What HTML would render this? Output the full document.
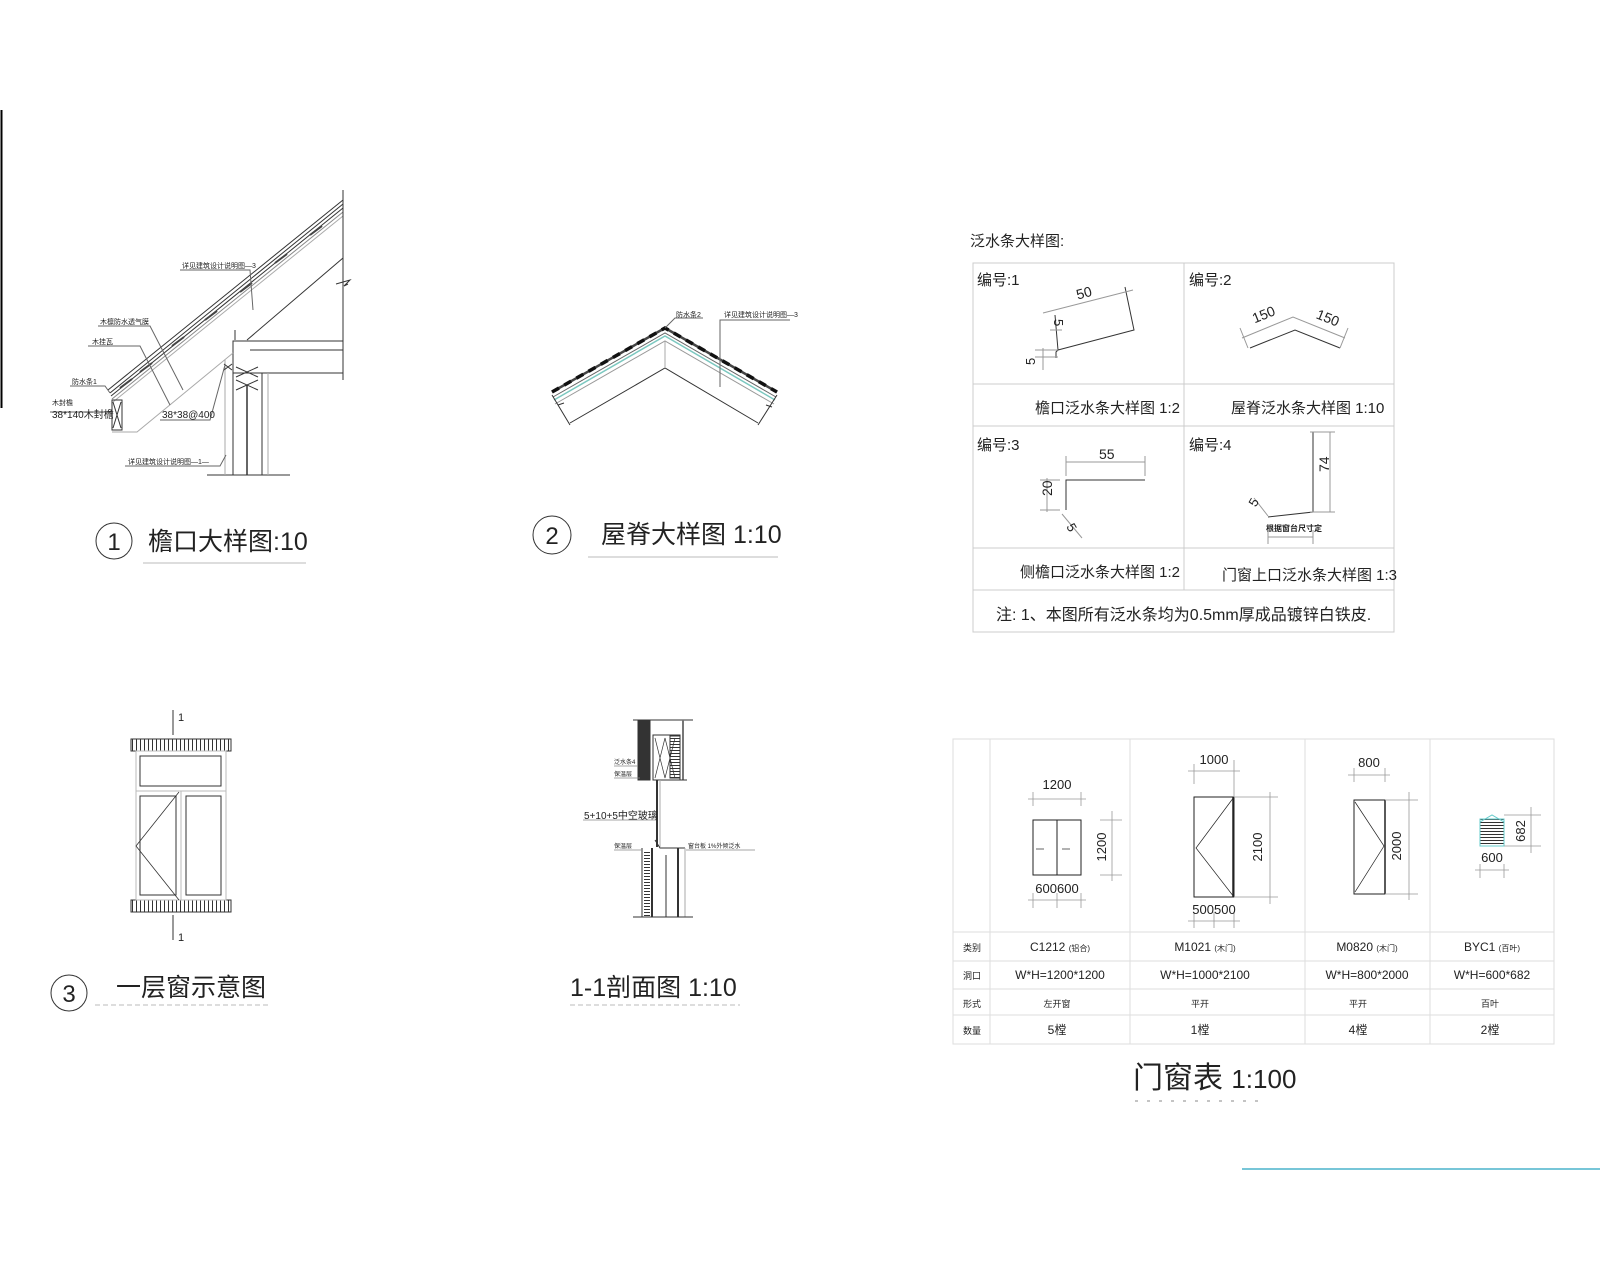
<!DOCTYPE html>
<html><head><meta charset="utf-8"><style>
html,body{margin:0;padding:0;background:#fff;}
svg{display:block;}
text{font-family:"Liberation Sans","Noto Sans CJK SC",sans-serif;fill:#222;}
</style></head><body>
<svg width="1600" height="1280" viewBox="0 0 1600 1280" xmlns="http://www.w3.org/2000/svg">
<rect width="1600" height="1280" fill="#fff"/>
<line x1="1.5" y1="110" x2="1.5" y2="408" stroke="#000" stroke-width="2"/>
<line x1="1242" y1="1169" x2="1600" y2="1169" stroke="#4ab4cc" stroke-width="1.5"/>

<!-- Detail 1: eave -->
<g stroke="#333" fill="none" stroke-width="1">
 <line x1="108" y1="390" x2="343" y2="200"/>
 <line x1="110" y1="393" x2="343" y2="204"/>
 <line x1="111" y1="396" x2="343" y2="208"/>
 <line x1="112" y1="399" x2="343" y2="212" stroke="#888"/>
 <line x1="113" y1="402" x2="343" y2="216" stroke="#aaa"/>
 <path d="M120 388 l12 -9 M140 372 l12 -9 M172 346 l12 -9 M205 320 l12 -9 M240 292 l12 -9 M275 263 l12 -9 M310 235 l12 -9" stroke="#444" stroke-width="2"/>
 <line x1="343" y1="190" x2="343" y2="380"/>
 <path d="M336 284 l14 -4 l-6 6 l4 -2"/>
 <line x1="247" y1="340" x2="343" y2="258"/>
 <rect x="233" y="341" width="110" height="32"/>
 <line x1="250" y1="350" x2="343" y2="350"/>
 <line x1="262" y1="373" x2="343" y2="373"/>
 <line x1="233" y1="373" x2="233" y2="475"/>
 <line x1="262" y1="373" x2="262" y2="475"/>
 <line x1="247" y1="385" x2="247" y2="475" stroke-width="1.5"/>
 <path d="M236 367 l22 10 M236 377 l22 -10 M236 380 l22 10 M236 390 l22 -10"/>
 <line x1="207" y1="475" x2="290" y2="475"/>
 <rect x="112" y="400" width="10" height="30"/>
 <path d="M113 402 l8 26 M121 402 l-8 26"/>
 <path d="M112 432 L137 432 L233 353" stroke="#aaa"/>
 <line x1="268" y1="373" x2="268" y2="475" stroke="#aaa"/>
 <line x1="225" y1="360" x2="225" y2="475" stroke="#aaa"/>
 <line x1="235" y1="340" x2="235" y2="330"/>
 <path d="M224 364 l8 6 M224 370 l8 -6"/>
 <path d="M180 270 L250 270 L253 310" stroke="#666"/>
 <path d="M98 326 L150 326 L183 390" stroke="#666"/>
 <path d="M88 346 L140 346 L170 405" stroke="#666"/>
 <path d="M70 386 L105 386 L110 393" stroke="#666"/>
 <path d="M50 412 L112 412" stroke="#666"/>
 <path d="M160 420 L210 420 L225 365" stroke="#666"/>
 <path d="M125 466 L220 466 L226 455" stroke="#666"/>
</g>
<g font-size="7" fill="#555">
 <text x="182" y="268">详见建筑设计说明图—3</text>
 <text x="100" y="324">木檩防水透气膜</text>
 <text x="92" y="344">木挂瓦</text>
 <text x="72" y="384">防水条1</text>
 <text x="52" y="405">木封檐</text>
 <text x="52" y="418" font-size="10" fill="#777">38*140木封檐</text>
 <text x="162" y="418" font-size="10" fill="#777">38*38@400</text>
 <text x="128" y="464">详见建筑设计说明图—1—</text>
</g>
<circle cx="114" cy="541" r="18" fill="none" stroke="#333"/>
<text x="114" y="550" font-size="24" text-anchor="middle">1</text>
<text x="148" y="550" font-size="25">檐口大样图:10</text>
<line x1="143" y1="563" x2="306" y2="563" stroke="#bbb"/>

<!-- Detail 2: ridge -->
<g fill="none" stroke="#333">
 <path d="M552 392 L665 328 L777 392" stroke="#444" stroke-width="2.5"/>
 <path d="M552 392 L665 328 L777 392" stroke="#111" stroke-width="3.5" stroke-dasharray="8,6"/>
 <path d="M553 397 L665 333 L776 397" stroke="#666" stroke-width="1"/>
 <path d="M554 400 L665 336 L775 400" stroke="#7cc8c0" stroke-width="1.5"/>
 <path d="M555 404 L665 341 L774 404" stroke="#999" stroke-width="1"/>
 <path d="M570 423 L665 368 L758 423" stroke-width="1"/>
 <line x1="665" y1="341" x2="665" y2="368" stroke="#aaa"/>
 <path d="M552 395 L570 425 M777 395 L758 425" stroke-width="1"/>
 <path d="M558 405 l6 -2 M766 405 l6 2" stroke-width="1"/>
 <path d="M665 328 L675 318 L703 318" stroke="#666" stroke-width="1"/>
 <path d="M720 387 L720 320 L790 320" stroke="#666" stroke-width="1"/>
</g>
<text x="676" y="317" font-size="7" fill="#555">防水条2</text>
<text x="724" y="317" font-size="7" fill="#555">详见建筑设计说明图—3</text>
<circle cx="552" cy="535" r="19" fill="none" stroke="#333"/>
<text x="552" y="544" font-size="24" text-anchor="middle">2</text>
<text x="601" y="543" font-size="25">屋脊大样图 1:10</text>
<line x1="588" y1="557" x2="778" y2="557" stroke="#bbb"/>

<!-- Detail 3: window -->
<defs>
 <pattern id="hat" width="4" height="12" patternUnits="userSpaceOnUse"><line x1="0.5" y1="0" x2="0.5" y2="12" stroke="#333"/></pattern>
 <pattern id="hz" width="10" height="3" patternUnits="userSpaceOnUse"><line x1="0" y1="0.5" x2="10" y2="0.5" stroke="#333"/></pattern>
</defs>
<rect x="131" y="739" width="100" height="12" fill="url(#hat)" stroke="#333"/>
<rect x="131" y="900" width="100" height="12" fill="url(#hat)" stroke="#333"/>
<g fill="none" stroke="#333">
 <rect x="136" y="751" width="90" height="149" stroke="#bbb"/>
 <line x1="136" y1="791" x2="226" y2="791" stroke="#bbb"/>
 <line x1="181" y1="791" x2="181" y2="900" stroke="#bbb"/>
 <rect x="140" y="756" width="81" height="30"/>
 <rect x="140" y="796" width="36" height="99"/>
 <rect x="186" y="796" width="35" height="99"/>
 <path d="M179 792 L136 846 L179 900" stroke-width="0.8"/>
 <line x1="173" y1="710" x2="173" y2="735"/>
 <line x1="173" y1="915" x2="173" y2="940"/>
</g>
<text x="178" y="721" font-size="11">1</text>
<text x="178" y="941" font-size="11">1</text>
<circle cx="69" cy="993" r="18" fill="none" stroke="#333"/>
<text x="69" y="1002" font-size="24" text-anchor="middle">3</text>
<text x="116" y="996" font-size="25">一层窗示意图</text>
<line x1="95" y1="1005" x2="270" y2="1005" stroke="#bbb" stroke-dasharray="5,3"/>

<!-- Section 1-1 -->
<g fill="none" stroke="#333">
 <line x1="633" y1="720" x2="693" y2="720"/>
 <rect x="638" y="720" width="12" height="60" fill="#333"/>
 <rect x="653" y="735" width="27" height="45"/>
 <path d="M655 738 l10 40 M665 738 l-10 40 M665 738 l10 40 M675 738 l-10 40" stroke-width="0.7"/>
 <rect x="670" y="736" width="10" height="42" fill="url(#hz)"/>
 <line x1="683" y1="720" x2="683" y2="780" stroke="#777" stroke-width="2"/>
 <path d="M653 780 L687 780"/>
 <line x1="657" y1="780" x2="657" y2="847" stroke-width="2"/>
 <line x1="660" y1="780" x2="660" y2="847" stroke="#aaa"/>
 <path d="M655 840 L660 848 L685 848"/>
 <line x1="642" y1="848" x2="642" y2="917"/>
 <line x1="652" y1="848" x2="652" y2="917" stroke-width="2"/>
 <rect x="644" y="850" width="6" height="66" fill="url(#hz)" stroke="none"/>
 <line x1="678" y1="848" x2="678" y2="917" stroke-width="2"/>
 <line x1="685" y1="848" x2="685" y2="917" stroke="#aaa"/>
 <line x1="666" y1="855" x2="666" y2="917"/>
 <line x1="633" y1="917" x2="693" y2="917"/>
 <path d="M614 766 L638 766 M614 778 L640 778 M583 820 L656 820 M614 850 L642 850 M686 850 L755 850" stroke="#888" stroke-width="0.8"/>
</g>
<g font-size="6" fill="#666">
 <text x="614" y="764">泛水条4</text>
 <text x="614" y="776">保温层</text>
 <text x="614" y="848">保温层</text>
 <text x="688" y="848">窗台板 1%外倾泛水</text>
</g>
<text x="584" y="819" font-size="10" fill="#888">5+10+5中空玻璃</text>
<text x="570" y="996" font-size="25">1-1剖面图 1:10</text>
<line x1="570" y1="1005" x2="740" y2="1005" stroke="#bbb" stroke-dasharray="5,3"/>

<!-- Flashing table -->
<text x="970" y="246" font-size="15">泛水条大样图:</text>
<g fill="none" stroke="#ccc">
 <rect x="973" y="263" width="421" height="369"/>
 <line x1="973" y1="384" x2="1394" y2="384"/>
 <line x1="973" y1="426" x2="1394" y2="426"/>
 <line x1="973" y1="548" x2="1394" y2="548"/>
 <line x1="973" y1="590" x2="1394" y2="590"/>
 <line x1="1184" y1="263" x2="1184" y2="590"/>
</g>
<g font-size="15">
 <text x="977" y="285">编号:1</text>
 <text x="1189" y="285">编号:2</text>
 <text x="977" y="450">编号:3</text>
 <text x="1189" y="450">编号:4</text>
 <text x="1035" y="413">檐口泛水条大样图 1:2</text>
 <text x="1231" y="413">屋脊泛水条大样图 1:10</text>
 <text x="1020" y="577">侧檐口泛水条大样图 1:2</text>
 <text x="1222" y="580">门窗上口泛水条大样图 1:3</text>
 <text x="996" y="620" font-size="16">注: 1、本图所有泛水条均为0.5mm厚成品镀锌白铁皮.</text>
</g>
<g fill="none" stroke="#333" stroke-width="1">
 <path d="M1058 350 L1134 330 L1125 287"/>
 <path d="M1055 315 L1058 350 l-2 2 l0 6"/>
 <path d="M1043 313 L1133 290" stroke="#999"/>
 <path d="M1050 330 L1062 330 M1035 350 L1058 350 M1035 357 L1058 357 M1043 348 L1043 370" stroke="#999"/>
 <path d="M1250 348 L1295 330 L1340 348"/>
 <path d="M1242 338 L1293 317 L1345 338 M1240 328 l8 20 M1348 328 l-8 20" stroke="#999"/>
 <path d="M1066 510 L1066 480 L1145 480"/>
 <path d="M1066 462 L1145 462 M1066 456 l0 20 M1145 456 l0 20 M1047 478 L1047 512 M1040 480 l20 0 M1040 510 l20 0 M1062 514 l20 24" stroke="#999"/>
 <path d="M1268 517 L1313 512 L1313 432"/>
 <path d="M1330 432 L1330 512 M1310 432 l25 0 M1310 512 l25 0 M1268 537 L1313 537 M1268 530 l0 14 M1313 530 l0 14 M1254 498 l14 18" stroke="#999"/>
</g>
<g font-size="14">
 <text x="1076" y="298" transform="rotate(-15 1083 292)">50</text>
 <text x="1053" y="328" font-size="13" transform="rotate(90 1058 324)">5</text>
 <text x="1025" y="365" font-size="13" transform="rotate(-90 1030 360)">5</text>
 <text x="1252" y="320" transform="rotate(-22 1262 315)">150</text>
 <text x="1316" y="322" transform="rotate(22 1326 318)">150</text>
 <text x="1099" y="459">55</text>
 <text x="1045" y="503" transform="rotate(-90 1045 496)">20</text>
 <text x="1072" y="530" font-size="13" transform="rotate(60 1072 523)">5</text>
 <text x="1321" y="480" transform="rotate(-90 1321 472)">74</text>
 <text x="1249" y="508" font-size="13" transform="rotate(-60 1252 502)">5</text>
 <text x="1266" y="531" font-size="8" font-weight="bold">根据窗台尺寸定</text>
</g>

<!-- Door/window schedule -->
<g fill="none" stroke="#ddd">
 <rect x="953" y="739" width="601" height="305"/>
 <line x1="953" y1="932" x2="1554" y2="932"/>
 <line x1="953" y1="961" x2="1554" y2="961"/>
 <line x1="953" y1="989" x2="1554" y2="989"/>
 <line x1="953" y1="1015" x2="1554" y2="1015"/>
 <line x1="990" y1="739" x2="990" y2="1044"/>
 <line x1="1130" y1="739" x2="1130" y2="1044"/>
 <line x1="1305" y1="739" x2="1305" y2="1044"/>
 <line x1="1430" y1="739" x2="1430" y2="1044"/>
</g>
<g fill="none" stroke="#222">
 <rect x="1033" y="820" width="48" height="55"/>
 <line x1="1057" y1="820" x2="1057" y2="875"/>
 <path d="M1036 849 l8 0 M1062 849 l8 0" stroke="#666"/>
 <rect x="1194" y="797" width="40" height="100"/>
 <path d="M1234 797 L1196 848 L1234 897" stroke-width="0.7"/>
 <line x1="1233" y1="797" x2="1233" y2="897" stroke-width="1.5"/>
 <rect x="1354" y="800" width="31" height="94"/>
 <line x1="1385" y1="800" x2="1385" y2="894" stroke-width="1.5"/>
 <path d="M1355 802 L1384 846 L1355 892" stroke-width="0.7"/>
 <rect x="1480" y="819" width="24" height="27" fill="url(#hz)" stroke="#6cc"/>
 <path d="M1480 822 L1492 815 L1504 822" stroke="#6cc"/>
</g>
<g fill="none" stroke="#999" stroke-width="0.8">
 <path d="M1028 799 L1086 799 M1033 792 l0 14 M1081 792 l0 14"/>
 <path d="M1112 811 L1112 881 M1100 820 L1122 820 M1100 875 L1122 875"/>
 <path d="M1028 900 L1086 900 M1033 893 l0 15 M1057 893 l0 15 M1081 893 l0 15"/>
 <path d="M1188 771 L1240 771 M1194 764 l0 20 M1234 760 l0 37"/>
 <path d="M1270 792 L1270 904 M1234 797 L1278 797 M1234 897 L1278 897"/>
 <path d="M1188 921 L1240 921 M1194 912 l0 16 M1214 912 l0 16 M1234 912 l0 16"/>
 <path d="M1348 775 L1390 775 M1354 768 l0 14 M1385 768 l0 14"/>
 <path d="M1409 792 L1409 900 M1385 800 L1418 800 M1385 894 L1418 894"/>
 <path d="M1531 807 L1531 853 M1504 815 L1541 815 M1504 846 L1541 846"/>
 <path d="M1475 870 L1509 870 M1480 864 l0 14 M1504 864 l0 14"/>
</g>
<g font-size="13" text-anchor="middle">
 <text x="1057" y="789">1200</text>
 <text x="1102" y="851" transform="rotate(-90 1102 847)">1200</text>
 <text x="1057" y="893">600600</text>
 <text x="1214" y="764">1000</text>
 <text x="1258" y="851" transform="rotate(-90 1258 847)">2100</text>
 <text x="1214" y="914">500500</text>
 <text x="1369" y="767">800</text>
 <text x="1397" y="850" transform="rotate(-90 1397 846)">2000</text>
 <text x="1521" y="835" transform="rotate(-90 1521 831)">682</text>
 <text x="1492" y="862">600</text>
</g>
<g font-size="12" text-anchor="middle">
 <text x="972" y="951" font-size="9">类别</text>
 <text x="972" y="979" font-size="9">洞口</text>
 <text x="972" y="1007" font-size="9">形式</text>
 <text x="972" y="1034" font-size="9">数量</text>
 <text x="1060" y="951">C1212 <tspan font-size="8">(铝合)</tspan></text>
 <text x="1205" y="951">M1021 <tspan font-size="8">(木门)</tspan></text>
 <text x="1367" y="951">M0820 <tspan font-size="8">(木门)</tspan></text>
 <text x="1492" y="951">BYC1 <tspan font-size="8">(百叶)</tspan></text>
 <text x="1060" y="979">W*H=1200*1200</text>
 <text x="1205" y="979">W*H=1000*2100</text>
 <text x="1367" y="979">W*H=800*2000</text>
 <text x="1492" y="979">W*H=600*682</text>
 <text x="1057" y="1007" font-size="9">左开窗</text>
 <text x="1200" y="1007" font-size="9">平开</text>
 <text x="1358" y="1007" font-size="9">平开</text>
 <text x="1490" y="1007" font-size="9">百叶</text>
 <text x="1057" y="1034">5樘</text>
 <text x="1200" y="1034">1樘</text>
 <text x="1358" y="1034">4樘</text>
 <text x="1490" y="1034">2樘</text>
</g>
<text x="1133" y="1088" font-size="30">门窗表 <tspan font-size="26">1:100</tspan></text>
<line x1="1135" y1="1101" x2="1262" y2="1101" stroke="#888" stroke-dasharray="3,9"/>
</svg>
</body></html>
